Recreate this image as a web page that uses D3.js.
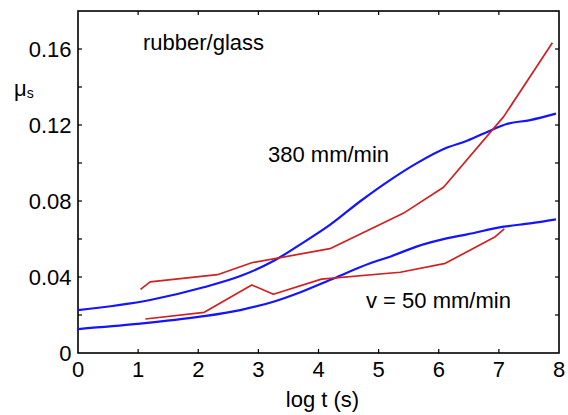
<!DOCTYPE html>
<html>
<head>
<meta charset="utf-8">
<script src="https://cdn.jsdelivr.net/npm/d3@7"></script>
<style>
  html, body { margin: 0; padding: 0; background: #fff; }
  svg text { font-family: "Liberation Sans", Arial, sans-serif; fill: #000; }
</style>
</head>
<body>
<svg id="chart" width="568" height="415"></svg>
<script>
// ---- data ----
const xTicks = [0, 1, 2, 3, 4, 5, 6, 7, 8];
const yTicks = [0, 0.04, 0.08, 0.12, 0.16];
const yTickLabels = ["0", "0.04", "0.08", "0.12", "0.16"];
const yMinorTicks = [0.02, 0.06, 0.10, 0.14];

// red, v = 380 mm/min (measured)
const red380X = [1.04, 1.20, 2.32, 2.89, 4.19, 5.41, 6.08, 7.08, 7.89];
const red380Y = [0.0335, 0.0374, 0.0412, 0.0475, 0.0549, 0.0735, 0.0872, 0.1244, 0.1633];
// red, v = 50 mm/min (measured)
const red50X = [1.12, 2.10, 2.89, 3.25, 4.05, 5.36, 6.11, 6.94, 7.09];
const red50Y = [0.0179, 0.0214, 0.0358, 0.0309, 0.0389, 0.0425, 0.0472, 0.0612, 0.0653];
// blue, v = 380 mm/min (model curve)
const blue380X = [0, 1.2, 2.09, 2.70, 3.25, 3.70, 4.19, 4.70, 5.19, 5.63, 6.13, 6.47, 6.91, 7.13, 7.52, 7.95];
const blue380Y = [0.0226, 0.0279, 0.0346, 0.0405, 0.0484, 0.0572, 0.0674, 0.0800, 0.0910, 0.0998, 0.1080, 0.1117, 0.1178, 0.1205, 0.1226, 0.1260];
// blue, v = 50 mm/min (model curve)
const blue50X = [0, 0.98, 2.03, 2.70, 3.25, 3.70, 4.19, 4.86, 5.19, 5.63, 6.13, 6.47, 7.08, 7.52, 7.95];
const blue50Y = [0.0126, 0.0153, 0.0191, 0.0226, 0.0270, 0.0320, 0.0384, 0.0472, 0.0507, 0.0560, 0.0603, 0.0624, 0.0665, 0.0682, 0.0703];

const labels = ["rubber/glass", "380 mm/min", "v = 50 mm/min"];

// ---- layout ----
const svg = d3.select("#chart");
const L = 78, R = 559, T = 11, B = 353;
const x = d3.scaleLinear().domain([0, 8]).range([L, R]);
const y = d3.scaleLinear().domain([0, 0.18]).range([B, T]);
const FS = 22;
const tickLen = 4;

// frame
svg.append("rect").attr("x", L).attr("y", T).attr("width", R - L).attr("height", B - T)
  .attr("fill", "none").attr("stroke", "#000").attr("stroke-width", 1.6);

const tickG = svg.append("g").attr("stroke", "#000").attr("stroke-width", 1.2);
xTicks.slice(1, -1).forEach(v => {
  tickG.append("line").attr("x1", x(v)).attr("x2", x(v)).attr("y1", B).attr("y2", B - tickLen);
  tickG.append("line").attr("x1", x(v)).attr("x2", x(v)).attr("y1", T).attr("y2", T + tickLen);
});
yTicks.slice(1).concat(yMinorTicks).forEach(v => {
  tickG.append("line").attr("x1", L).attr("x2", L + tickLen).attr("y1", y(v)).attr("y2", y(v));
  tickG.append("line").attr("x1", R).attr("x2", R - tickLen).attr("y1", y(v)).attr("y2", y(v));
});

// tick labels
svg.append("g").selectAll("text").data(xTicks).join("text")
  .attr("x", d => x(d)).attr("y", B + 23.5)
  .attr("text-anchor", "middle").attr("font-size", FS).text(d => d);
svg.append("g").selectAll("text").data(yTicks).join("text")
  .attr("x", L - 6.5).attr("y", d => y(d) + 8)
  .attr("text-anchor", "end").attr("font-size", FS).text((d, i) => yTickLabels[i]);

// axis titles
svg.append("text").attr("x", (L + R) / 2 + 4).attr("y", 407)
  .attr("text-anchor", "middle").attr("font-size", FS).text("log t (s)");
const yl = svg.append("text").attr("x", 14).attr("y", 96).attr("font-size", FS);
yl.append("tspan").text("μ");
yl.append("tspan").attr("font-size", 14).attr("dy", 2).text("s");

// lines
const line = d3.line().x(d => x(d[0])).y(d => y(d[1]));
const smooth = d3.line().x(d => x(d[0])).y(d => y(d[1])).curve(d3.curveMonotoneX);
const zip = (a, b) => a.map((v, i) => [v, b[i]]);

svg.append("path").datum(zip(blue380X, blue380Y)).attr("d", smooth)
  .attr("fill", "none").attr("stroke", "#1414ff").attr("stroke-width", 2.2);
svg.append("path").datum(zip(blue50X, blue50Y)).attr("d", smooth)
  .attr("fill", "none").attr("stroke", "#1414ff").attr("stroke-width", 2.2);
svg.append("path").datum(zip(red380X, red380Y)).attr("d", line)
  .attr("fill", "none").attr("stroke", "#d02020").attr("stroke-width", 1.7).attr("stroke-linejoin", "round");
svg.append("path").datum(zip(red50X, red50Y)).attr("d", line)
  .attr("fill", "none").attr("stroke", "#d02020").attr("stroke-width", 1.7).attr("stroke-linejoin", "round");

// annotations
svg.append("text").attr("x", 143).attr("y", 50).attr("font-size", FS).text(labels[0]);
svg.append("text").attr("x", 268).attr("y", 162).attr("font-size", FS).text(labels[1]);
svg.append("text").attr("x", 366).attr("y", 308).attr("font-size", FS).text(labels[2]);
</script>
</body>
</html>
